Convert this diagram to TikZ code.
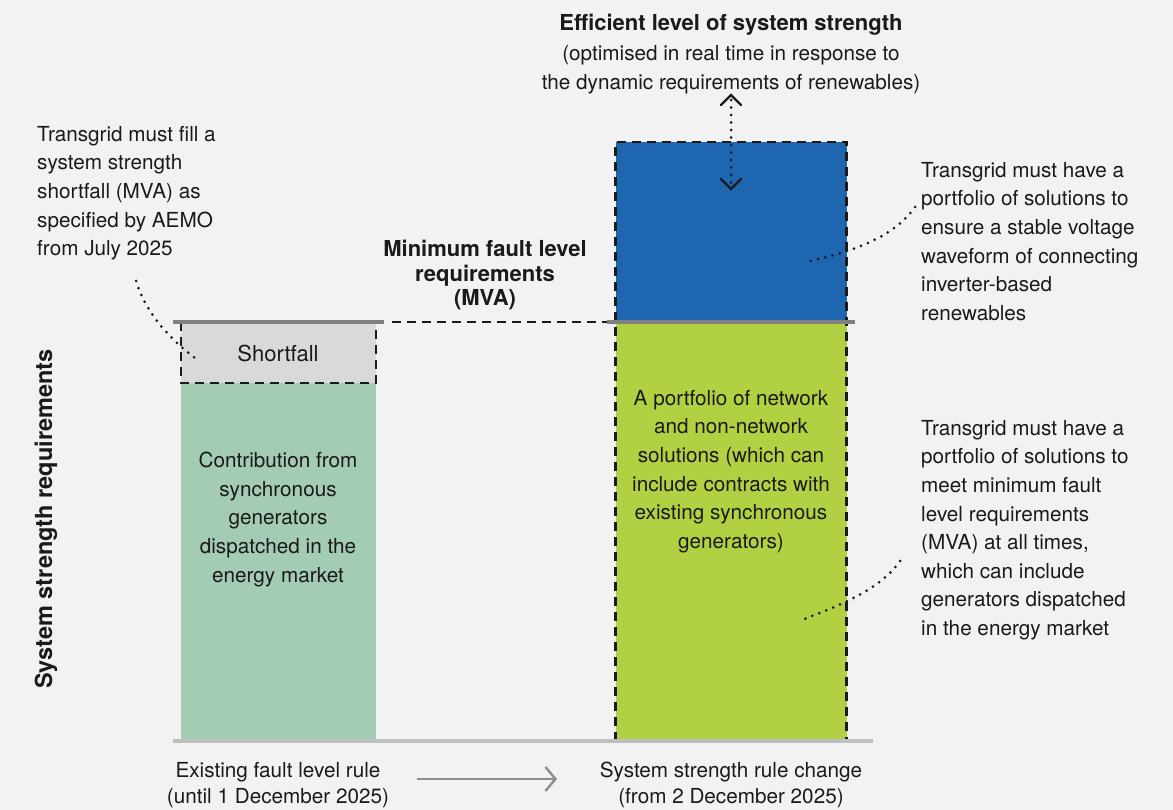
\documentclass[tikz,border=0pt]{standalone}
\usepackage{fontspec}
\setmainfont{TeX Gyre Heros}
\usetikzlibrary{arrows.meta}
\definecolor{bg}{HTML}{F2F2F2}
\definecolor{barblue}{HTML}{1F66B0}
\definecolor{barlime}{HTML}{B2D142}
\definecolor{barsage}{HTML}{A4CBB4}
\definecolor{shortgray}{HTML}{D9D9D9}
\definecolor{lvlgray}{HTML}{808080}
\definecolor{basegray}{HTML}{BFBFBF}
\definecolor{txt}{HTML}{1A1A1A}
\tikzset{
  txtfont/.style={font=\fontsize{20.7}{28.6}\selectfont, text=txt, inner sep=0pt},
  dashbox/.style={draw=txt, line width=2.6pt, dash pattern=on 9pt off 6pt},
  leader/.style={draw=txt, line width=3pt, line cap=round, dash pattern=on 0pt off 7.5pt},
  lvlline/.style={draw=lvlgray, line width=4.8pt},
}
\begin{document}
\begin{tikzpicture}[x=1pt,y=-1pt]
\useasboundingbox (0,0) rectangle (1173,810);
\fill[bg] (0,0) rectangle (1173,810);

% left bar
\fill[barsage] (181,383) rectangle (376,741);
\fill[shortgray] (181,322) rectangle (376,383);
\draw[dashbox] (181,322) -- (181,383) -- (376,383) -- (376,322);
\draw[lvlline] (173,322) -- (384,322);
\node[txtfont, font=\fontsize{22}{28}\selectfont] (short) at (278,353) {Shortfall};

% right bar
\fill[barblue] (615.5,142) rectangle (846.5,322);
\fill[barlime] (615.5,322) rectangle (846.5,741);
\draw[dashbox] (615.5,741) rectangle (846.5,142);
\draw[lvlline] (607,322) -- (855,322);

% dashed min level link
\coordinate (lvlL) at (384,322);
\coordinate (lvlR) at (607,322);
\draw[dashbox] ([xshift=8pt]lvlL) -- (lvlR);

% baseline
\draw[basegray, line width=4.8pt] (173,741) -- (873,741);

% double arrow
\coordinate (upT) at (731,95);
\coordinate (dnT) at (731,189);
\draw[leader] (731,100) -- (731,186);
\draw[txt, line width=2.4pt, line cap=round, line join=miter] (721,105) -- (upT) -- (741,105);
\draw[txt, line width=2.4pt, line cap=round, line join=miter] (721,179) -- (dnT) -- (741,179);

% texts
\node[txtfont, font=\bfseries\fontsize{22}{28}\selectfont, anchor=north] (eff) at (731,14)
  {Efficient level of system strength};
\node[txtfont, anchor=north, align=center, font=\fontsize{20.7}{29}\selectfont] (effsub) at (731,45)
  {(optimised in real time in response to\\the dynamic requirements of renewables)};
\node[txtfont, anchor=north, align=center, font=\bfseries\fontsize{22}{24.5}\selectfont] (minf) at (485,240)
  {Minimum fault level\\requirements\\(MVA)};
\node[txtfont, anchor=north west, align=left] (ltxt) at (37,126)
  {Transgrid must fill a\\system strength\\shortfall (MVA) as\\specified by AEMO\\from July 2025};
\node[txtfont, anchor=north west, align=left] (rtop) at (921,162)
  {Transgrid must have a\\portfolio of solutions to\\ensure a stable voltage\\waveform of connecting\\inverter-based\\renewables};
\node[txtfont, anchor=north west, align=left] (rbot) at (921,420)
  {Transgrid must have a\\portfolio of solutions to\\meet minimum fault\\level requirements\\(MVA) at all times,\\which can include\\generators dispatched\\in the energy market};
\node[txtfont, anchor=north, align=center] (lbar) at (278,452)
  {Contribution from\\synchronous\\generators\\dispatched in the\\energy market};
\node[txtfont, anchor=north, align=center] (rbar) at (731,390)
  {A portfolio of network\\and non-network\\solutions (which can\\include contracts with\\existing synchronous\\generators)};
\node[txtfont, font=\bfseries\fontsize{23.5}{28}\selectfont, rotate=90] (yax) at (46,519) {System strength requirements};
\node[txtfont, font=\fontsize{20.7}{26}\selectfont, anchor=north, align=center] (blab) at (278,762)
  {Existing fault level rule\\(until 1 December 2025)};
\node[txtfont, font=\fontsize{20.7}{26}\selectfont, anchor=north, align=center] (brab) at (731,762)
  {System strength rule change\\(from 2 December 2025)};

% bottom arrow
\coordinate (arS) at (417,779);
\coordinate (arE) at (557,779);
\draw[lvlgray!90, line width=2.4pt, -{Straight Barb[length=10pt,width=24pt,line width=2.4pt]}] (arS) -- (arE);

% leaders
\coordinate (l1a) at (136,281);
\coordinate (l1b) at (195,358);
\draw[leader] (l1a) .. controls (145,310) and (165,335) .. (l1b);
\coordinate (l2a) at (915,207);
\coordinate (l2b) at (806,262);
\draw[leader] (l2a) .. controls (895,235) and (860,250) .. (l2b);
\coordinate (l3a) at (900,561);
\coordinate (l3b) at (802,620);
\draw[leader] (l3a) .. controls (880,590) and (840,605) .. (l3b);
\end{tikzpicture}
\end{document}
